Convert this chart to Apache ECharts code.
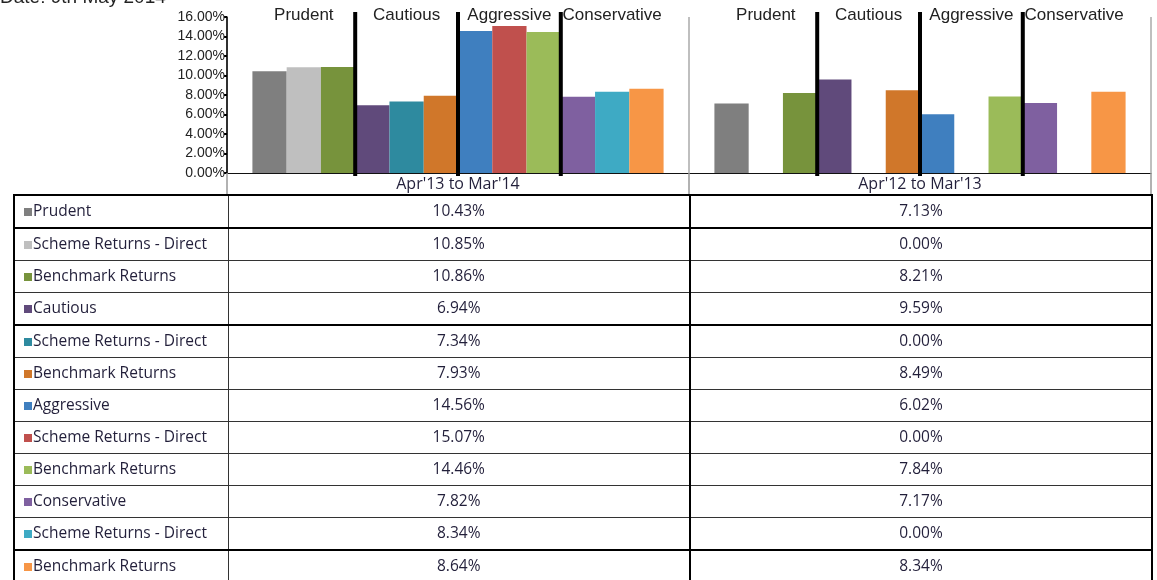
<!DOCTYPE html>
<html>
<head>
<meta charset="utf-8">
<title>Returns</title>
<script src="https://cdn.jsdelivr.net/npm/echarts@6/dist/echarts.min.js"></script>
<style>
  html, body { margin: 0; padding: 0; background: #fff; }
  #wrap { position: relative; width: 1157px; height: 580px; overflow: hidden; }
  #chart { position: absolute; left: 0; top: 0; width: 1157px; height: 580px; }
  #tbl {
    position: absolute; left: 13px; top: 194px;
    border-collapse: collapse; table-layout: fixed;
    font-family: "Open Sans", Lato, sans-serif; font-size: 15.5px; color: #221f3a;
    border: 2px solid #000;
  }
  #tbl td { border: 1px solid #333; padding: 0 0 3px 0; height: 28px; }
  #tbl td.name { padding-left: 9px; text-align: left; }
  #tbl td.val { text-align: center; }
  #tbl td.last { border-left: 2px solid #000; }
  #tbl tr.thick td { border-bottom: 2px solid #000; }
  #tbl .key { display: inline-block; width: 8px; height: 8px; margin-right: 1px; vertical-align: 0px; }
</style>
</head>
<body>
<div id="wrap">
  <div id="chart"></div>
  <table id="tbl">
    <colgroup><col style="width:214px"><col style="width:462px"><col style="width:462px"></colgroup>
    <tbody id="tbody"></tbody>
  </table>
</div>
<script>
// periods on the x axis (also the table header)
const periods = ["Apr'13 to Mar'14", "Apr'12 to Mar'13"];
// fund groups, 3 series each
const groups = ['Prudent', 'Cautious', 'Aggressive', 'Conservative'];
const seriesNames = [
  'Prudent', 'Scheme Returns - Direct', 'Benchmark Returns',
  'Cautious', 'Scheme Returns - Direct', 'Benchmark Returns',
  'Aggressive', 'Scheme Returns - Direct', 'Benchmark Returns',
  'Conservative', 'Scheme Returns - Direct', 'Benchmark Returns'
];
const seriesColors = [
  '#7f7f7f', '#bfbfbf', '#77933c',
  '#604a7b', '#2e8a9f', '#d0772a',
  '#3f7fbf', '#c0504d', '#9bbb59',
  '#7f60a0', '#3eaac4', '#f79646'
];
// values in %
const returns1314 = [10.43, 10.85, 10.86, 6.94, 7.34, 7.93, 14.56, 15.07, 14.46, 7.82, 8.34, 8.64];
const returns1213 = [7.13, 0.00, 8.21, 9.59, 0.00, 8.49, 6.02, 0.00, 7.84, 7.17, 0.00, 8.34];
const yMin = 0, yMax = 16, yStep = 2;

const catGap = 0.11;
const thickRows = [0, 3, 10];

/* data table under the chart */
let tbody = document.getElementById('tbody');
let html = '';
for (let i = 0; i < seriesNames.length; i++) {
  html += '<tr' + (thickRows.indexOf(i) >= 0 ? ' class="thick"' : '') + '>' +
    '<td class="name"><span class="key" style="background:' + seriesColors[i] + '"></span>' + seriesNames[i] + '</td>' +
    '<td class="val">' + returns1314[i].toFixed(2) + '%</td>' +
    '<td class="val last">' + returns1213[i].toFixed(2) + '%</td></tr>';
}
tbody.innerHTML = html;

/* separators + group titles drawn over each period */
function renderGroups(params, api) {
  let idx = api.value(0);
  let base = api.coord([idx, yMin]);
  let top = api.coord([idx, yMax])[1];
  let band = api.size([1, 0])[0];
  let inner = band * (1 - catGap);
  let groupW = inner / groups.length;
  let start = base[0] - inner / 2;
  let children = [];
  for (let g = 0; g < groups.length; g++) {
    if (g > 0) {
      let x = start + g * groupW;
      children.push({
        type: 'line',
        shape: { x1: x, y1: top - 5, x2: x, y2: base[1] + 3 },
        style: { stroke: '#000', lineWidth: 4 }
      });
    }
    children.push({
      type: 'text',
      style: {
        text: groups[g], x: start + (g + 0.5) * groupW, y: top - 2,
        align: 'center', verticalAlign: 'middle',
        fontSize: 17, fontFamily: '"Liberation Sans", Arial', fill: '#222'
      }
    });
  }
  return { type: 'group', children: children };
}

let series = seriesNames.map(function (name, i) {
  return {
    name: name,
    type: 'bar',
    data: [returns1314[i], returns1213[i]],
    itemStyle: { color: seriesColors[i] },
    barGap: '0%',
    barCategoryGap: (catGap * 100) + '%'
  };
});
series.push({
  type: 'custom',
  renderItem: renderGroups,
  data: periods.map(function (p, i) { return [i, 0]; }),
  encode: { x: 0, y: 1 },
  silent: true,
  z: 10
});

let myChart = echarts.init(document.getElementById('chart'));
let option = {
  animation: false,
  backgroundColor: '#fff',
  graphic: [{
    type: 'text', x: 0, y: 7,
    style: { text: 'Date: 9th May 2014', verticalAlign: 'bottom', fontSize: 19, fontFamily: '"Liberation Sans", Arial', fill: '#222' }
  }],
  grid: { left: 227, right: 6, top: 17, bottom: 407 },
  xAxis: {
    type: 'category',
    data: periods,
    axisLine: { lineStyle: { color: '#111', width: 1 } },
    axisTick: { show: true, length: 21, lineStyle: { color: '#999', width: 1.5 } },
    splitLine: { show: true, lineStyle: { color: '#aaa', width: 1.5 } },
    axisLabel: { margin: 3, fontSize: 16, fontFamily: '"Open Sans", Lato', color: '#221f3a' }
  },
  yAxis: {
    type: 'value',
    min: yMin, max: yMax, interval: yStep,
    axisLine: { show: true, lineStyle: { color: '#000', width: 1.5 } },
    axisTick: { show: true, length: 3, lineStyle: { color: '#000', width: 2 } },
    splitLine: { show: false },
    axisLabel: {
      margin: 2, fontSize: 14, fontFamily: '"Liberation Sans", Arial', color: '#222',
      formatter: function (v) { return v.toFixed(2) + '%'; }
    }
  },
  series: series
};
myChart.setOption(option);
</script>
</body>
</html>
